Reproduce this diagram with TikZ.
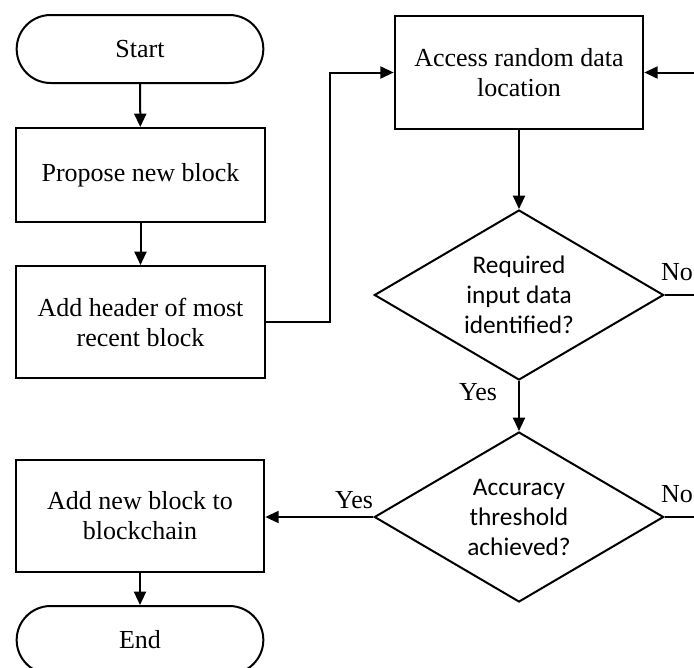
\documentclass[tikz,border=0pt]{standalone}
\usepackage{fontspec}
\setmainfont{Liberation Serif}
\newfontfamily\calibri{Carlito}
\usetikzlibrary{arrows.meta,shapes.geometric}

\tikzset{
  base/.style={draw=black, line width=1.5pt, inner sep=0pt, align=center,
    font=\fontsize{19.5}{22.5}\selectfont},
  terminal/.style={base, rectangle, rounded corners=25.5pt,
    minimum width=185pt, minimum height=51pt},
  process/.style={base, rectangle, minimum width=186.5pt},
  decision/.style={base, diamond, aspect=1.7, minimum width=217pt,
    minimum height=127.5pt, font=\calibri\fontsize{19}{22.5}\selectfont},
  flow/.style={line width=1.5pt, -{Triangle[length=10pt,width=9pt]}},
  plain/.style={line width=1.5pt},
  tag/.style={font=\fontsize{19.5}{22.5}\selectfont, inner sep=0pt}
}

\begin{document}
\begin{tikzpicture}[x=0.75pt, y=-0.75pt]
  \useasboundingbox (0,0) rectangle (694,668);
  \clip (0,0) rectangle (694,668);

  % left column
  \node[terminal] (start) at (140,49) {Start};
  \node[process, minimum height=70.5pt] (propose) at (140.5,175) {Propose new block};
  \node[process, minimum height=84pt] (header) at (140.5,322) {Add header of most\\recent block};
  \node[process, minimum height=84pt] (addblock) at (140,516) {Add new block to\\blockchain};
  \node[terminal] (finish) at (140,640) {End};

  % right column
  \node[process, minimum height=85pt] (access) at (519,72.5) {Access random data\\location};
  \node[decision] (d1) at (519,295) {Required\\input data\\identified?};
  \node[decision] (d2) at (519,517) {Accuracy\\threshold\\achieved?};

  % routing points
  \coordinate (jog) at (330,0);
  \coordinate (rail) at (712,0);

  % connectors
  \draw[flow] (start) -- (propose);
  \draw[flow] (propose) -- (header);
  \draw[flow] (header.east) -- (header.east -| jog) |- (access.west);
  \draw[flow] (access) -- (d1);
  \draw[flow] (d1) -- (d2);
  \draw[flow] (d1.east) -- (d1.east -| rail) |- (access.east);
  \draw[plain] (d2.east) -- (d2.east -| rail) -- (d1.east -| rail);
  \draw[flow] (d2.west) -- (d2.west -| addblock.east);
  \draw[flow] (addblock) -- (finish);

  % branch labels
  \node[tag] (no1) at (677,272) {No};
  \node[tag] (yes1) at (478,392) {Yes};
  \node[tag] (yes2) at (354,500) {Yes};
  \node[tag] (no2) at (677,494) {No};
\end{tikzpicture}
\end{document}
